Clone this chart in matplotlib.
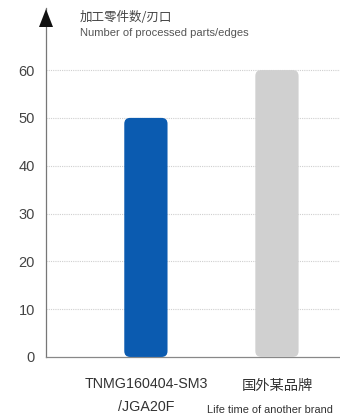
import matplotlib
matplotlib.use("Agg")
import matplotlib.pyplot as plt
from matplotlib.patches import FancyBboxPatch, Polygon
import matplotlib.transforms as mtransforms

plt.rcParams['font.family'] = ['Noto Sans CJK SC', 'DejaVu Sans']

categories = ["TNMG160404-SM3\n/JGA20F", "国外某品牌"]
sub_labels = ["", "Life time of another brand"]
values = [50, 60]
colors = ["#0b5bb0", "#d0d0d0"]
yticks = [0, 10, 20, 30, 40, 50, 60]
ylabel_cn = "加工零件数/刃口"
ylabel_en = "Number of processed parts/edges"

LAT = ['Liberation Sans', 'DejaVu Sans']

fig = plt.figure(figsize=(3.4, 4.17), dpi=100)
ax = fig.add_axes([0.135, 0.144, 0.865, 0.837])
ax.set_xlim(-0.763, 1.481)
ax.set_ylim(0, 73)

xs = list(range(len(values)))
width = 0.33
bars = ax.bar(xs, values, width=width, color=colors, zorder=3)
# replace with rounded bars
for b, c in zip(bars, colors):
    b.set_visible(False)
    p = FancyBboxPatch((b.get_x(), b.get_y()), b.get_width(), b.get_height(),
                       boxstyle="round,pad=0,rounding_size=0.045",
                       mutation_aspect=27.4, facecolor=c, edgecolor='none', zorder=3)
    ax.add_patch(p)

ax.set_yticks(yticks)
ax.set_yticklabels([str(t) for t in yticks], fontsize=10.5, color="#444444",
                   family=LAT)
ax.tick_params(axis='y', length=0, pad=8)
ax.set_xticks([])
for t in yticks[1:]:
    ax.axhline(t, color="#cfcfcf", lw=0.8, ls=(0, (1, 1)), zorder=1)

for s in ['top', 'right']:
    ax.spines[s].set_visible(False)
ax.spines['left'].set_color("#777777")
ax.spines['left'].set_linewidth(0.9)
ax.spines['bottom'].set_color("#888888")
ax.spines['bottom'].set_linewidth(0.9)

# arrow head on y axis (figure pixel positions)
W, H = 340, 417
head = Polygon([(46/W, 1-9/H), (39/W, 1-27/H), (53/W, 1-27/H)], closed=True,
               transform=fig.transFigure, facecolor="#111111", edgecolor='none',
               zorder=5)
fig.patches.append(head)

fig.text(80/W, 1-17/H, ylabel_cn, fontsize=9, color="#444444", va='center')
fig.text(80/W, 1-33/H, ylabel_en, fontsize=8, color="#555555", va='center',
         family=LAT)

trans = mtransforms.blended_transform_factory(ax.transData, fig.transFigure)
ax.text(xs[0], 1-384/H, "TNMG160404-SM3", transform=trans, ha='center', va='center',
        fontsize=10.3, color="#333333", family=LAT)
ax.text(xs[0], 1-407/H, "/JGA20F", transform=trans, ha='center', va='center',
        fontsize=10.3, color="#333333", family=LAT)
ax.text(xs[1], 1-386/H, categories[1], transform=trans, ha='center', va='center',
        fontsize=10.3, color="#333333")
ax.text(207/W, 1-410/H, sub_labels[1], transform=fig.transFigure, ha='left', va='center',
        fontsize=7.9, color="#333333", family=LAT)

fig.savefig("out.png", dpi=100)
